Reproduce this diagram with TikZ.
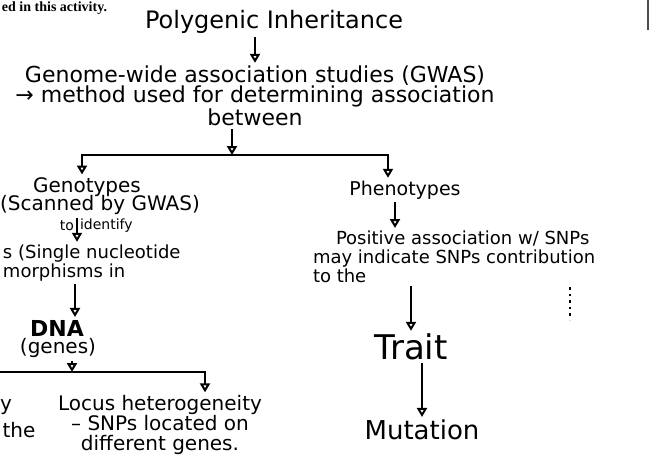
\documentclass[tikz,border=0pt]{standalone}
\usepackage{fontspec}
\setmainfont{DejaVu Sans}
\newfontfamily\printfont{Liberation Serif}
\usetikzlibrary{arrows.meta}

\tikzset{
  arr/.style={-{Triangle[open,width=5pt,length=4.5pt]}},
  hand/.style={font=\fontsize{10}{10}\selectfont, inner sep=1pt, align=center},
  small/.style={hand, font=\fontsize{9}{9.5}\selectfont},
  tiny/.style={inner sep=1pt, font=\fontsize{7}{7}\selectfont},
}

\begin{document}
\begin{tikzpicture}[x=0.5pt,y=-0.5pt,line width=1pt]
\useasboundingbox (0,0) rectangle (649,468);
\clip (0,0) rectangle (649,468);

% printed line above and page edge
\node[anchor=base west, inner sep=0pt, font=\printfont\bfseries\fontsize{7}{8}\selectfont] (prev) at (1,11) {ed in this activity.};
\draw[line width=1.5pt, gray!60!black] (648,0) -- (648,30);

% top of the chart
\node[hand, font=\fontsize{12}{12}\selectfont] (title) at (274,22) {Polygenic Inheritance};
\node[hand, font=\fontsize{11}{10}\selectfont] (gwas) at (255,96) {Genome-wide association studies (GWAS)\\→ method used for determining association\\between};
\draw[arr] (title.south -| gwas.north) -- (gwas.north);

\coordinate (split) at (232,155);
\draw[arr] (gwas.south -| split) -- (split);

% genotype branch
\node[hand] (geno) at (87,187) {Genotypes};
\node[hand] (scan) at (100,205) {(Scanned by GWAS)};
\node[small, anchor=west, align=left] (snp) at (0,263) {s (Single nucleotide\\morphisms in};
\node[hand, font=\bfseries\fontsize{11}{11}\selectfont] (dna) at (57,328) {DNA};
\node[hand] (genes) at (58,348) {(genes)};
\draw[arr] (split) -| ([xshift=-2.5pt]geno.north);
\draw[arr] ([xshift=-11.5pt]scan.south) -- ([xshift=-11.5pt]scan.south |- snp.north)
  node[tiny, pos=0.35, left] {to}
  node[tiny, pos=0.35, right] {identify};
\draw[arr] (snp.south -| 75,0) -- (dna.north -| 75,0);

\coordinate (fork) at (72,372);
\coordinate (off) at (0,372);
\draw[arr] (genes.south -| fork) -- (fork);
\draw (fork) -- (off);
\node[hand] (lefty) at (6,407) {y};
\node[hand] (leftthe) at (19,430) {the};
\node[hand] (locus) at (160,425) {Locus heterogeneity\\– SNPs located on\\different genes.};
\draw[arr] (fork) -| ([xshift=22.5pt]locus.north);

% phenotype branch
\node[hand, font=\fontsize{9.5}{9.5}\selectfont] (pheno) at (405,190) {Phenotypes};
\node[small, anchor=north west, align=left] (assoc) at (310,228) {\hspace*{11.5pt}Positive association w/ SNPs\\may indicate SNPs contribution\\to the};
\node[hand, font=\fontsize{17}{17}\selectfont] (trait) at (411,347) {Trait};
\node[hand, font=\fontsize{13}{13}\selectfont] (mut) at (422,430) {Mutation};
\draw[arr] (split) -| ([xshift=-8.5pt]pheno.north);
\draw[arr] ([xshift=-5pt]pheno.south) -- ([xshift=-5pt]pheno.south |- assoc.north);
\draw[arr] (assoc.south -| trait.north) -- (trait.north);
\draw[arr] (trait.south -| mut.north) -- (mut.north);
\draw[dotted, line width=1.3pt] (570,287) -- (570,320);
\end{tikzpicture}
\end{document}
